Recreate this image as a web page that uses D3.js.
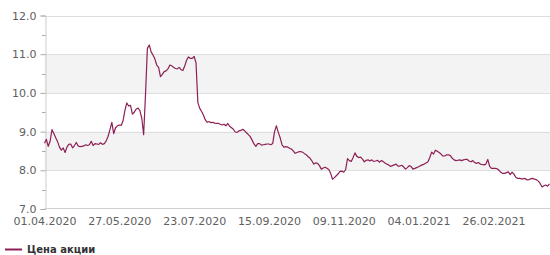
<!DOCTYPE html>
<html>
<head>
<meta charset="utf-8">
<script src="https://cdn.jsdelivr.net/npm/d3@7"></script>
<style>
  html, body { margin: 0; padding: 0; background: #fff; }
  svg { display: block; font-family: "DejaVu Sans", sans-serif; }
</style>
</head>
<body>
<svg id="chart" width="550" height="255"></svg>
<script>
// Tick labels on the x axis (every 40 trading days)
const tickLabels = ["01.04.2020", "27.05.2020", "23.07.2020", "15.09.2020", "09.11.2020", "04.01.2021", "26.02.2021"];
const tickEvery = 40;
const yTicks = [7, 8, 9, 10, 11, 12];
const seriesName = "Цена акции";
// Share price, one value per trading day
const prices = [
  8.70, 8.80, 8.62, 8.75, 9.05, 8.95, 8.84, 8.74, 8.60, 8.52,
  8.58, 8.46, 8.60, 8.67, 8.68, 8.58, 8.64, 8.72, 8.63, 8.61,
  8.62, 8.63, 8.66, 8.64, 8.66, 8.75, 8.64, 8.69, 8.68, 8.67,
  8.71, 8.67, 8.69, 8.76, 8.88, 9.05, 9.24, 8.95, 9.10, 9.15,
  9.17, 9.16, 9.28, 9.55, 9.74, 9.66, 9.68, 9.45, 9.50, 9.58,
  9.61, 9.54, 9.35, 8.92, 9.95, 11.15, 11.24, 11.06, 10.98, 10.88,
  10.72, 10.66, 10.42, 10.48, 10.55, 10.57, 10.62, 10.72, 10.70, 10.66,
  10.63, 10.62, 10.66, 10.60, 10.58, 10.70, 10.85, 10.93, 10.89, 10.89,
  10.94, 10.78, 9.75, 9.60, 9.52, 9.42, 9.30, 9.24, 9.26, 9.23,
  9.24, 9.22, 9.21, 9.21, 9.19, 9.17, 9.19, 9.15, 9.21, 9.14,
  9.10, 9.06, 8.99, 8.98, 9.02, 9.03, 9.06, 9.02, 8.97, 8.92,
  8.87, 8.78, 8.68, 8.62, 8.69, 8.69, 8.65, 8.66, 8.67, 8.68,
  8.68, 8.66, 8.69, 9.00, 9.15, 8.98, 8.84, 8.66, 8.60, 8.61,
  8.60, 8.57, 8.55, 8.50, 8.44, 8.46, 8.48, 8.48, 8.47, 8.43,
  8.40, 8.35, 8.31, 8.24, 8.16, 8.19, 8.18, 8.12, 8.03, 8.06,
  8.08, 8.05, 8.02, 7.92, 7.77, 7.81, 7.86, 7.91, 7.97, 7.98,
  7.95, 8.02, 8.30, 8.25, 8.23, 8.33, 8.45, 8.36, 8.33, 8.34,
  8.29, 8.22, 8.26, 8.27, 8.24, 8.27, 8.23, 8.24, 8.26, 8.21,
  8.25, 8.23, 8.19, 8.16, 8.14, 8.10, 8.12, 8.14, 8.16, 8.11,
  8.11, 8.13, 8.09, 8.03, 8.07, 8.12, 8.10, 8.03, 8.05, 8.07,
  8.09, 8.12, 8.14, 8.16, 8.19, 8.22, 8.33, 8.47, 8.42, 8.52,
  8.49, 8.46, 8.42, 8.37, 8.37, 8.40, 8.40, 8.38, 8.31, 8.27,
  8.25, 8.26, 8.27, 8.25, 8.27, 8.28, 8.28, 8.24, 8.22, 8.25,
  8.20, 8.18, 8.20, 8.16, 8.15, 8.14, 8.16, 8.28, 8.10, 8.05,
  8.05, 8.05, 8.04, 8.00, 7.95, 7.92, 7.92, 7.94, 7.96, 7.89,
  7.95, 7.90, 7.82, 7.79, 7.79, 7.78, 7.78, 7.79, 7.75, 7.76,
  7.78, 7.79, 7.77, 7.76, 7.72, 7.66, 7.57, 7.60, 7.62, 7.59,
  7.65
];

const svg = d3.select("#chart");
const plotLeft = 44.5, plotRight = 549.5, plotTop = 15.5, plotBottom = 209;
const lineColor = "#8c1f55";

const x = d3.scaleLinear().domain([0, prices.length - 1]).range([plotLeft, plotRight]);
const y = d3.scaleLinear().domain([7, 12]).range([plotBottom, plotTop]);

// alternating bands
const bands = [[8, 9], [10, 11]];
svg.append("g").selectAll("rect").data(bands).join("rect")
  .attr("x", plotLeft).attr("width", 550 - plotLeft)
  .attr("y", d => y(d[1])).attr("height", d => y(d[0]) - y(d[1]))
  .attr("fill", "#f3f3f3");

// grid lines
svg.append("g").selectAll("line").data(yTicks.slice(1)).join("line")
  .attr("x1", plotLeft).attr("x2", 550)
  .attr("y1", d => Math.round(y(d)) + 0.5).attr("y2", d => Math.round(y(d)) + 0.5)
  .attr("stroke", "#dedede").attr("stroke-width", 1);

// y axis
const yAxis = d3.axisLeft(y).tickValues(yTicks).tickFormat(d3.format(".1f")).tickSize(5).tickPadding(4);
const gy = svg.append("g").attr("transform", `translate(${Math.round(plotLeft) + 0.5},0)`).call(yAxis);
gy.select(".domain").attr("stroke", "#cccccc");
gy.selectAll(".tick line").attr("stroke", "#aaaaaa");
gy.selectAll(".tick text").attr("fill", "#606060").attr("font-size", 11).attr("font-family", "DejaVu Sans");
// minor ticks
const minor = d3.range(7.5, 12, 1);
gy.append("g").selectAll("line").data(minor).join("line")
  .attr("x1", -3.5).attr("x2", 0)
  .attr("y1", d => Math.round(y(d)) + 0.5).attr("y2", d => Math.round(y(d)) + 0.5)
  .attr("stroke", "#aaaaaa");

// x axis
const tickIdx = tickLabels.map((_, i) => i * tickEvery);
const xAxis = d3.axisBottom(x).tickValues(tickIdx).tickFormat((d, i) => tickLabels[i]).tickSize(0).tickPadding(9);
const gx = svg.append("g").attr("transform", `translate(0,${Math.round(plotBottom) - 0.5})`).call(xAxis);
gx.select(".domain").remove();
gx.append("line").attr("x1", plotLeft).attr("x2", 550).attr("stroke", "#d0d0d0");
gx.selectAll(".tick text").attr("fill", "#606060").attr("font-size", 11).attr("font-family", "DejaVu Sans");

// price line
const line = d3.line().x((d, i) => x(i)).y(d => y(d));
svg.append("path").datum(prices)
  .attr("d", line).attr("fill", "none")
  .attr("stroke", lineColor).attr("stroke-width", 1.2).attr("stroke-linejoin", "round");

// legend
const lg = svg.append("g").attr("transform", "translate(5,249.5)");
lg.append("line").attr("x1", 0).attr("x2", 17).attr("stroke", lineColor).attr("stroke-width", 2);
lg.append("text").attr("x", 22).attr("y", 3.5).text(seriesName)
  .attr("font-size", 10).attr("font-weight", "bold").attr("fill", "#333");
</script>
</body>
</html>
